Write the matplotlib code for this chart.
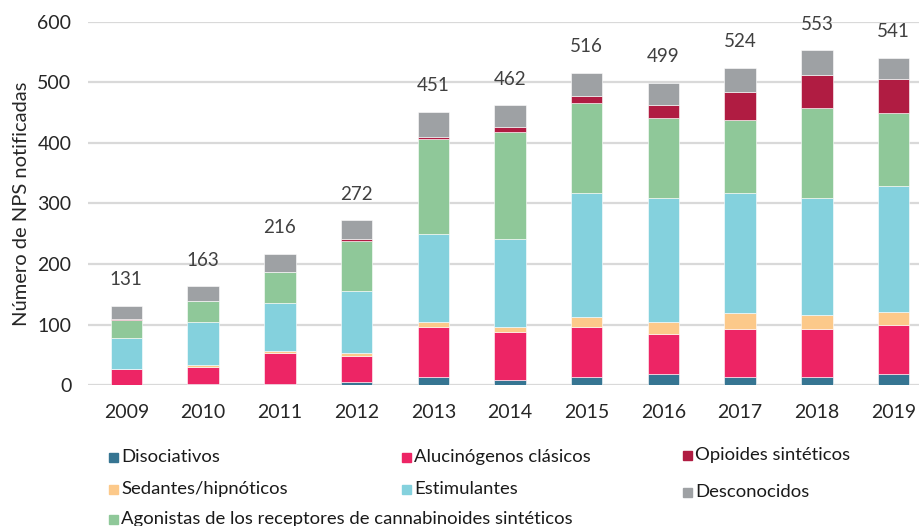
import numpy as np
import matplotlib
matplotlib.use('Agg')
from matplotlib import pyplot as plt
from matplotlib.patches import Rectangle

# datos
years = ['2009', '2010', '2011', '2012', '2013', '2014', '2015', '2016', '2017', '2018', '2019']
disociativos = [0, 1, 2, 5, 14, 9, 14, 18, 14, 14, 18]
alucinogenos = [26, 28, 51, 43, 82, 79, 82, 66, 78, 78, 82]
sedantes = [1, 4, 4, 5, 8, 8, 16, 20, 27, 24, 20]
estimulantes = [50, 71, 79, 102, 146, 146, 205, 205, 198, 193, 209]
agonistas = [31, 35, 50, 83, 157, 177, 149, 133, 121, 149, 121]
opioides = [1, 0, 1, 3, 3, 7, 12, 20, 47, 55, 55]
desconocidos = [22, 24, 29, 31, 41, 36, 38, 37, 39, 40, 36]
totals = [131, 163, 216, 272, 451, 462, 516, 499, 524, 553, 541]

series = [
    ('Disociativos', disociativos, '#367592'),
    ('Alucinógenos clásicos', alucinogenos, '#ed2565'),
    ('Sedantes/hipnóticos', sedantes, '#fcc98a'),
    ('Estimulantes', estimulantes, '#84d1dd'),
    ('Agonistas de los receptores de cannabinoides sintéticos', agonistas, '#8fc899'),
    ('Opioides sintéticos', opioides, '#b01c42'),
    ('Desconocidos', desconocidos, '#9ea1a4'),
]

plt.rcParams['font.family'] = ['Lato', 'DejaVu Sans']

fig = plt.figure(figsize=(9.2, 5.26), dpi=100)
ax = fig.add_axes([88 / 920, 1 - 385 / 526, 844 / 920, 363 / 526])

x = np.arange(len(years))
bottom = np.zeros(len(years))
for name, vals, color in series:
    ax.bar(x, vals, 0.41, bottom=bottom, color=color, edgecolor='white', linewidth=0.4, zorder=3)
    bottom += np.array(vals)

# totales encima de las barras
for xi, t in zip(x, totals):
    ax.annotate(str(t), (xi, t), xytext=(0, 15), textcoords='offset points',
                ha='center', va='baseline', fontsize=13.5, color='#404040', annotation_clip=False)

ax.set_xlim(-0.5, len(years) - 0.5)
ax.set_ylim(0, 600)
ax.set_yticks(range(0, 601, 100))
ax.set_xticks(x)
ax.set_xticklabels(years)
ax.tick_params(axis='both', length=0, labelsize=14, colors='#262626')
ax.tick_params(axis='x', pad=14)
ax.tick_params(axis='y', pad=12)
ax.grid(axis='y', color='#d9d9d9', linewidth=1.6, zorder=0)
for s in ax.spines.values():
    s.set_visible(False)
ax.set_ylabel('Número de NPS notificadas', fontsize=14.5, color='#262626', labelpad=5)

# leyenda hecha a mano (tres columnas irregulares)
legend_pos = [
    ('Disociativos', '#367592', 109, 457),
    ('Alucinógenos clásicos', '#ed2565', 402, 457),
    ('Opioides sintéticos', '#b01c42', 683, 455),
    ('Sedantes/hipnóticos', '#fcc98a', 109, 489),
    ('Estimulantes', '#84d1dd', 402, 489),
    ('Desconocidos', '#9ea1a4', 683, 492),
    ('Agonistas de los receptores de cannabinoides sintéticos', '#8fc899', 109, 519),
]
for label, color, px, py in legend_pos:
    fig.patches.append(Rectangle((px / 920, 1 - (py + 5) / 526), 9 / 920, 9 / 526,
                                 transform=fig.transFigure, color=color))
    fig.text((px + 12) / 920, 1 - py / 526, label, fontsize=13.3, color='#1a1a1a', va='center')

plt.savefig('out.png', dpi=100)
